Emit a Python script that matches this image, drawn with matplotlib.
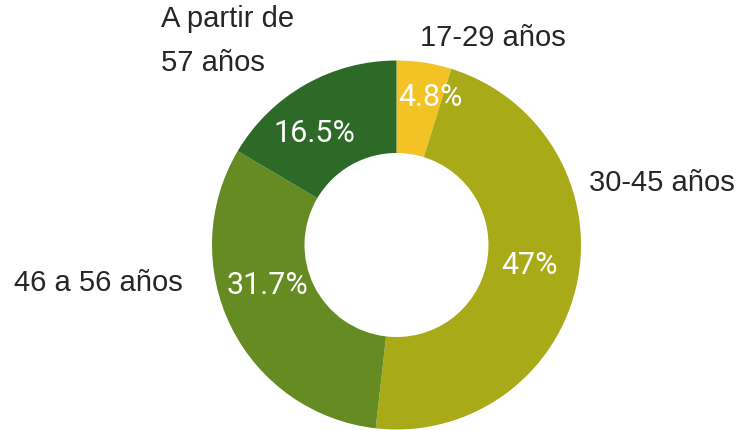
import matplotlib.pyplot as plt

# data
grupos = ["17-29 años", "30-45 años", "46 a 56 años", "A partir de\n57 años"]
porcentajes = [4.8, 47, 31.7, 16.5]
colores = ["#F3C224", "#A8AA18", "#658B22", "#2E6A27"]

# posicion de las etiquetas exteriores (pixeles, y hacia arriba) y alineacion
etiq_pos = [(420, 392), (589, 247), (183, 147), (161, 389)]
etiq_ha = ["left", "left", "right", "left"]
# posicion de los porcentajes dentro del anillo
pct_pos = [(430, 333), (530, 164), (267, 145), (314, 296)]


def fmt(p):
    return f"{p:.1f}%".replace(".0%", "%")


fig = plt.figure(figsize=(7.54, 4.30), dpi=100)
ax = fig.add_axes([0, 0, 1, 1])

wedges, texts, autotexts = ax.pie(
    porcentajes, colors=colores, startangle=90, counterclock=False,
    center=(396.5, 185), radius=184.5, frame=True,
    wedgeprops=dict(width=92.5, edgecolor="none"),
    autopct=fmt, pctdistance=0.75,
    textprops=dict(color="white", fontsize=22, family="Roboto"),
)
for t, p in zip(autotexts, pct_pos):
    t.set_position(p)

ax.set_xlim(0, 754)
ax.set_ylim(0, 430)
ax.set_aspect("equal")
ax.axis("off")

for g, (x, y), ha in zip(grupos, etiq_pos, etiq_ha):
    ax.text(x, y, g, ha=ha, va="center", fontsize=21, color="#262626",
            family="Liberation Sans", linespacing=1.75)

fig.savefig("out.png", dpi=100)
